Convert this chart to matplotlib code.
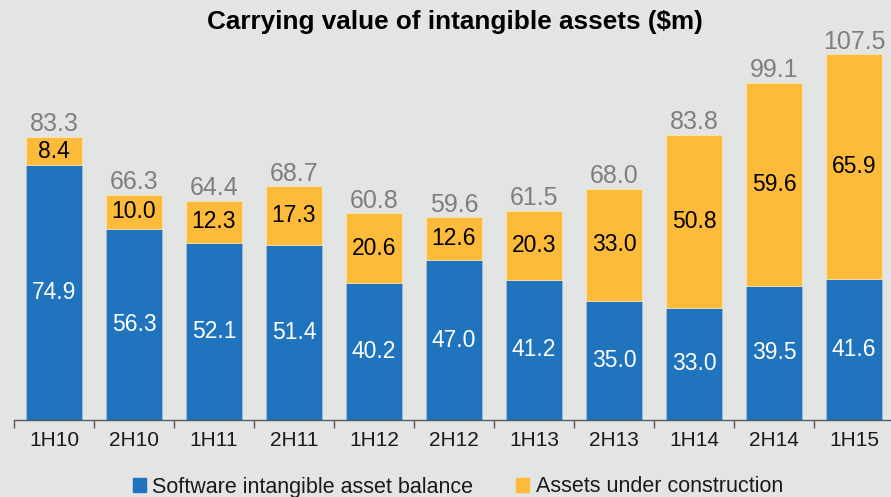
import matplotlib
matplotlib.use("Agg")
import matplotlib.pyplot as plt
from matplotlib.patches import Patch

categories = ["1H10", "2H10", "1H11", "2H11", "1H12", "2H12", "1H13", "2H13", "1H14", "2H14", "1H15"]
software = [74.9, 56.3, 52.1, 51.4, 40.2, 47.0, 41.2, 35.0, 33.0, 39.5, 41.6]
construction = [8.4, 10.0, 12.3, 17.3, 20.6, 12.6, 20.3, 33.0, 50.8, 59.6, 65.9]
totals = [83.3, 66.3, 64.4, 68.7, 60.8, 59.6, 61.5, 68.0, 83.8, 99.1, 107.5]

plt.rcParams['font.family'] = ['Liberation Sans', 'DejaVu Sans']
bg = "#e3e4e4"
blue = "#1f74bd"
orange = "#fdbb3b"

fig = plt.figure(figsize=(8.91, 4.97), dpi=100, facecolor=bg)
ax = fig.add_axes([14/891, 77/497, 880/891, 408/497], facecolor=bg)
x = list(range(len(categories)))
w = 0.69
ax.bar(x, software, width=w, color=blue, edgecolor="#9cc3e6", linewidth=0.5)
ax.bar(x, construction, width=w, bottom=software, color=orange, edgecolor="#fde9b5", linewidth=0.5)

for i in x:
    ax.text(i, software[i] / 2, f"{software[i]:.1f}", ha="center", va="center", color="white", fontsize=16.5)
    ax.text(i, software[i] + construction[i] / 2, f"{construction[i]:.1f}", ha="center", va="center", color="black", fontsize=16.5)
    ax.text(i, totals[i] + 0.2, f"{totals[i]:.1f}", ha="center", va="bottom", color="#7f7f7f", fontsize=18)

ax.set_xlim(-0.5, len(categories) - 0.5)
ax.set_ylim(0, 120)
for s in ["top", "right", "left"]:
    ax.spines[s].set_visible(False)
ax.spines["bottom"].set_color("#595959")
ax.spines["bottom"].set_linewidth(1)
ax.set_yticks([])
ax.set_xticks(x)
ax.set_xticklabels(categories, fontsize=15, color="#1a1a1a")
ax.tick_params(axis="x", length=0, pad=8)
ax.set_xticks([i - 0.5 for i in range(len(categories) + 1)], minor=True)
ax.tick_params(axis="x", which="minor", length=6, color="#595959", width=1)

fig.text(455/891, 1 - 22/497, "Carrying value of intangible assets ($m)", ha="center", va="center",
         fontsize=18.8, fontweight="bold", color="black")

handles = [Patch(color=blue, label="Software intangible asset balance"),
           Patch(color=orange, label="Assets under construction")]
fig.legend(handles=handles, loc="center", bbox_to_anchor=(458/891, 1 - 487/497), ncol=2, frameon=False,
           fontsize=15.5, handlelength=0.6, handleheight=0.6, handletextpad=0.3, columnspacing=2.0,
           labelcolor="#1a1a1a")

fig.savefig("out.png", dpi=100, facecolor=bg)
